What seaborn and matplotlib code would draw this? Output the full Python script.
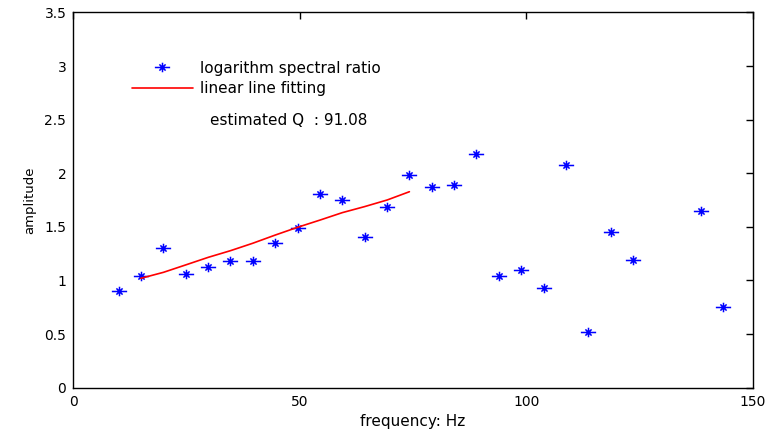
import numpy as np
import pandas as pd
import matplotlib
matplotlib.use("Agg")
import matplotlib.pyplot as plt
from matplotlib.path import Path
from matplotlib.ticker import FuncFormatter
import seaborn as sns

# ---- data ----
freq = [10.0, 14.9, 19.9, 24.8, 29.8, 34.7, 39.6, 44.6, 49.5, 54.5, 59.4, 64.3,
        69.3, 74.2, 79.2, 84.1, 89.0, 94.0, 98.9, 103.9, 108.8, 113.7, 118.7,
        123.6, 138.5, 143.4]
ratio = [0.90, 1.04, 1.30, 1.06, 1.13, 1.185, 1.185, 1.35, 1.49, 1.81, 1.75, 1.41,
         1.69, 1.98, 1.87, 1.89, 2.18, 1.04, 1.095, 0.93, 2.075, 0.52, 1.45,
         1.195, 1.645, 0.755]
fit_freq = [14.9, 19.9, 24.8, 29.8, 34.7, 39.6, 44.6, 49.5, 54.5, 59.4, 64.3,
            69.3, 74.2]
fit_amp = [1.02, 1.076, 1.145, 1.216, 1.278, 1.347, 1.424, 1.496, 1.564, 1.633,
           1.689, 1.751, 1.828]
x_ticks = [0, 50, 100, 150]
y_ticks = [0, 0.5, 1, 1.5, 2, 2.5, 3, 3.5]
q_text = "estimated Q  : 91.08"

pts = pd.DataFrame({"freq": freq, "ratio": ratio})
fit = pd.DataFrame({"freq": fit_freq, "amp": fit_amp})

sns.set_style("white")
plt.rcParams["font.family"] = ["DejaVu Sans"]
plt.rcParams["text.color"] = "black"
plt.rcParams["axes.labelcolor"] = "black"

fig = plt.figure(figsize=(7.73, 4.29), dpi=100)
ax = fig.add_axes([0.0948, 0.0963, 0.8790, 0.8746])

# MATLAB-like asterisk marker (wider than tall)
verts = [(-1.6, 0), (1.6, 0), (0, -1), (0, 1),
         (-0.65, -0.65), (0.65, 0.65), (-0.65, 0.65), (0.65, -0.65)]
codes = [Path.MOVETO, Path.LINETO] * 4
star = Path(verts, codes)

sns.lineplot(data=pts, x="freq", y="ratio", ax=ax, linestyle="none",
             marker=star, markersize=11, markeredgecolor="#0000ff",
             markerfacecolor="none", markeredgewidth=1.1, color="#0000ff",
             label="logarithm spectral ratio")
sns.lineplot(data=fit, x="freq", y="amp", ax=ax, color="#ff0000", linewidth=1.2,
             label="linear line fitting")

ax.set_xlim(0, 150)
ax.set_ylim(0, 3.5)
ax.set_xticks(x_ticks)
ax.set_yticks(y_ticks)
ax.yaxis.set_major_formatter(FuncFormatter(lambda v, p: f"{v:g}"))
ax.tick_params(direction="in", length=5, width=1, top=True, right=True,
               labelsize=10, colors="black", pad=5)
for s in ax.spines.values():
    s.set_color("black")
    s.set_linewidth(1.0)

ax.set_xlabel("frequency: Hz", fontsize=11, labelpad=4, color="black")
ax.set_ylabel("amplitude", fontsize=9.5, labelpad=6, color="black")

leg = ax.legend(loc="upper left", bbox_to_anchor=(0.086, 0.872), frameon=False,
                fontsize=11, handlelength=4.0, handletextpad=0.45,
                labelspacing=0.35, borderpad=0, borderaxespad=0)
for t in leg.get_texts():
    t.set_color("black")

ax.text(0.201, 0.711, q_text, transform=ax.transAxes, fontsize=11,
        ha="left", va="center", color="black")

fig.savefig("out.png", dpi=100, facecolor="white")
